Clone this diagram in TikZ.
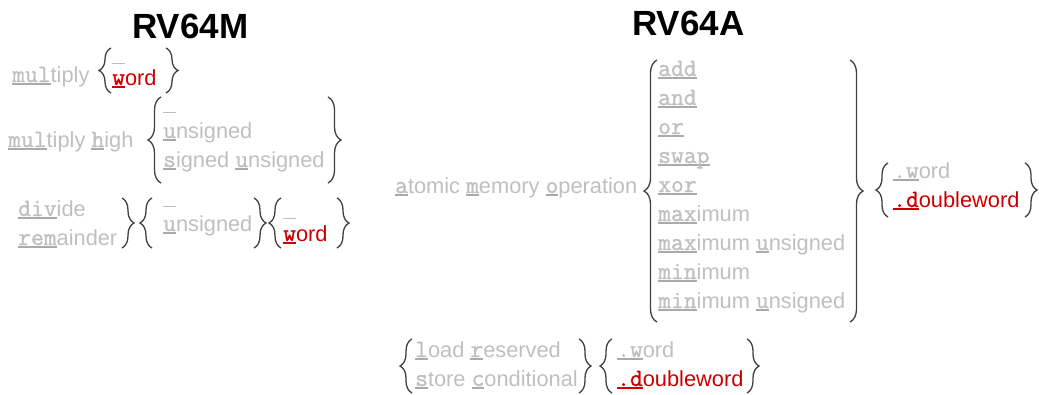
\documentclass[tikz,border=0pt]{standalone}
\usepackage{fontspec}
\setmainfont{Liberation Sans}
\newfontfamily\monof{Latin Modern Mono}[BoldFont={Latin Modern Mono}, BoldFeatures={FakeBold=1.2}]
\usetikzlibrary{decorations.pathreplacing}
\definecolor{txtgray}{RGB}{191,191,191}
\definecolor{ulgray}{RGB}{170,170,170}
\definecolor{rvred}{RGB}{204,0,0}
\definecolor{brgray}{RGB}{64,64,64}
\newcommand\uln[2][ulgray]{\setbox0\hbox{\fontsize{24.9}{26}\selectfont\monof\bfseries #2}\rlap{\textcolor{#1}{\rule[-2.8pt]{\wd0}{2.2pt}}}\box0}
\newcommand\blankrule{\rule{13pt}{1.2pt}}
\tikzset{
  txt/.style={anchor=base west, inner sep=0pt, font=\fontsize{21.8}{26}\selectfont, text=txtgray},
  redtxt/.style={txt, text=rvred},
  title/.style={anchor=base west, inner sep=0pt, font=\fontsize{35}{40}\selectfont\bfseries, text=black},
  brc/.style={draw=brgray, line width=1.3pt, decorate, decoration={brace, amplitude=12pt}},
  bigbrc/.style={brc, decoration={brace, amplitude=13pt}}
}
\begin{document}
\begin{tikzpicture}[x=1pt, y=-1pt]
\useasboundingbox (0,0) rectangle (1039,394);
% titles
\node[title] (tM) at (132,38) {RV64M};
\node[title] (tA) at (632,35) {RV64A};
% ---- RV64M row 1
\node[txt] (mul) at (12,82) {\uln{mul}tiply};
\node[txt] (b1) at (112,64) {\blankrule};
\node[redtxt] (w1) at (112,85) {\uln[rvred]{w}ord};
\draw[brc] (111,93) -- (111,48);
\draw[brc] (166,48) -- (166,93);
% ---- row 2
\node[txt] (mh) at (8,147) {\uln{mul}tiply \uln{h}igh};
\node[txt] (b2) at (163,113) {\blankrule};
\node[txt] (u2) at (163,138) {\uln{u}nsigned};
\node[txt] (su) at (163,167) {\uln{s}igned \uln{u}nsigned};
\draw[bigbrc] (161,183) -- (161,97);
\draw[bigbrc] (328,97) -- (328,183);
% ---- row 3
\node[txt] (dv) at (18,216) {\uln{div}ide};
\node[txt] (rm) at (18,245) {\uln{rem}ainder};
\draw[brc] (122,198) -- (122,248);
\draw[brc] (152,248) -- (152,198);
\node[txt] (b3) at (163,207) {\blankrule};
\node[txt] (u3) at (163,231) {\uln{u}nsigned};
\draw[brc] (254,198) -- (254,248);
\draw[brc] (281,248) -- (281,198);
\node[txt] (b4) at (283,219) {\blankrule};
\node[redtxt] (w4) at (283,241) {\uln[rvred]{w}ord};
\draw[brc] (337,198) -- (337,248);
% ---- RV64A
\node[txt] (amo) at (395,193) {\uln{a}tomic \uln{m}emory \uln{o}peration};
\draw[bigbrc] (657,322) -- (657,60);
\node[txt] (add) at (658,76) {\uln{add}};
\node[txt] (and) at (658,105) {\uln{and}};
\node[txt] (or) at (658,134) {\uln{or}};
\node[txt] (swap) at (658,163) {\uln{swap}};
\node[txt] (xor) at (658,192) {\uln{xor}};
\node[txt] (max) at (658,221) {\uln{max}imum};
\node[txt] (maxu) at (658,250) {\uln{max}imum \uln{u}nsigned};
\node[txt] (min) at (658,279) {\uln{min}imum};
\node[txt] (minu) at (658,308) {\uln{min}imum \uln{u}nsigned};
\draw[bigbrc] (850,60) -- (850,322);
\draw[brc] (888,217) -- (888,163);
\node[txt] (dw) at (893,178) {\uln{.w}ord};
\node[redtxt] (ddw) at (893,207) {\uln[rvred]{.d}oubleword};
\draw[brc] (1025,163) -- (1025,217);
% ---- LR / SC
\draw[brc] (412,393) -- (412,339);
\node[txt] (lr) at (415,357) {\uln{l}oad \uln{r}eserved};
\node[txt] (sc) at (415,386) {\uln{s}tore \uln{c}onditional};
\draw[brc] (579,339) -- (579,393);
\draw[brc] (612,393) -- (612,339);
\node[txt] (w5) at (617,357) {\uln{.w}ord};
\node[redtxt] (d5) at (617,386) {\uln[rvred]{.d}oubleword};
\draw[brc] (747,339) -- (747,393);
\end{tikzpicture}
\end{document}
